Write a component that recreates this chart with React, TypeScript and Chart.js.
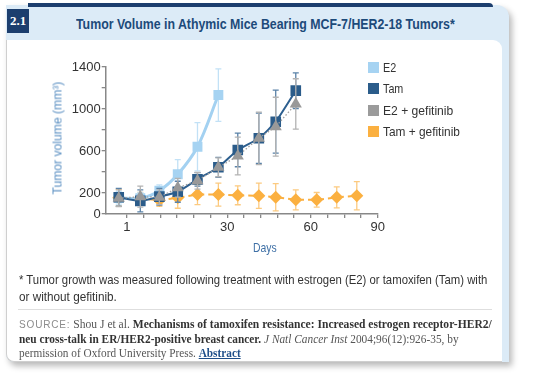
import React, { useEffect, useLayoutEffect, useRef } from 'react';
import { Chart, registerables } from 'chart.js';

Chart.register(...registerables);

// ---- data ----
// x positions of the measurement time points, in axis tick units
const xPos = [-0.49, 0.8, 1.94, 3.04, 4.22, 5.47, 6.63, 7.89, 8.9, 10.1, 11.35, 12.55, 13.75];
const xTickPos = [0, 1, 2, 3, 4, 5, 6, 7, 8, 9, 10, 11, 12, 13, 14, 15];
const xTickLabels = ['1', '', '', '', '', '', '30', '', '', '', '', '60', '', '', '', '90'];
const yTickValues = [0, 200, 400, 600, 800, 1000, 1200, 1400];
const yTickLabels = ['0', '200', '', '600', '', '1000', '', '1400'];

const e2Values = [155, 150, 222, 378, 641, 1133];
const e2Errors = [60, 55, 55, 140, 230, 250];
const tamValues = [160, 125, 165, 212, 330, 445, 610, 721, 879, 1175];
const tamErrors = [85, 105, 80, 100, 65, 95, 160, 240, 300, 170];
const e2GefValues = [150, 165, 160, 250, 317, 445, 552, 721, 832, 1048];
const e2GefErrors = [80, 100, 70, 90, 80, 90, 180, 250, 280, 240];
const tamGefValues = [155, 145, 132, 155, 185, 185, 178, 174, 159, 135, 135, 159, 174];
const tamGefErrors = [80, 60, 60, 100, 95, 110, 90, 120, 130, 95, 70, 100, 135];

const legendLabels = ['E2', 'Tam', 'E2 + gefitinib', 'Tam + gefitinib'];
const legendColors = ['#a6d3f2', '#2b5c8a', '#9b9b9b', '#fbb040'];

const SANS = '"Liberation Sans", Arial, sans-serif';
const SERIF = '"Liberation Serif", "Times New Roman", serif';

const pts = (vals: number[]) => vals.map((v, i) => ({ x: xPos[i], y: v }));

const errorBarPlugin = {
  id: 'errorBars',
  beforeDatasetDraw(chart: any, args: any) {
    const ds = chart.data.datasets[args.index];
    if (!ds.errors) return;
    const yScale = chart.scales.y;
    const ctx = chart.ctx;
    ctx.save();
    ctx.strokeStyle = ds.errorColor;
    ctx.lineWidth = 1.3;
    args.meta.data.forEach((el: any, i: number) => {
      const v = ds.data[i].y;
      const e = ds.errors[i];
      const x = el.x;
      const yt = yScale.getPixelForValue(v + e);
      const yb = yScale.getPixelForValue(Math.max(0, v - e));
      ctx.beginPath();
      ctx.moveTo(x, yt);
      ctx.lineTo(x, yb);
      ctx.moveTo(x - 3, yt);
      ctx.lineTo(x + 3, yt);
      ctx.moveTo(x - 3, yb);
      ctx.lineTo(x + 3, yb);
      ctx.stroke();
    });
    ctx.restore();
  },
};

type FitProps = {
  x: number;
  y: number;
  w: number;
  h?: number;
  align?: 'left' | 'center';
  rotate?: number;
  style?: React.CSSProperties;
  children: React.ReactNode;
};

function Fit({ x, y, w, h = 16, align = 'left', rotate, style, children }: FitProps) {
  const ref = useRef<HTMLSpanElement>(null);
  useLayoutEffect(() => {
    const el = ref.current;
    if (!el) return;
    el.style.transform = 'none';
    const nat = el.offsetWidth;
    if (nat > 0) el.style.transform = `scaleX(${w / nat})`;
  });
  const left = align === 'center' ? x - w / 2 : x;
  return (
    <div
      style={{
        position: 'absolute',
        left,
        top: y - h / 2,
        width: w,
        height: h,
        lineHeight: h + 'px',
        whiteSpace: 'nowrap',
        transform: rotate ? `rotate(${rotate}deg)` : undefined,
        transformOrigin: '50% 50%',
      }}
    >
      <span ref={ref} style={{ display: 'inline-block', transformOrigin: '0 50%', ...style }}>
        {children}
      </span>
    </div>
  );
}

function ChartCanvas() {
  const ref = useRef<HTMLCanvasElement>(null);
  useEffect(() => {
    if (!ref.current) return;
    const tickFont = { family: SANS, size: 13 };
    const chart = new Chart(ref.current, {
      type: 'line',
      data: {
        datasets: [
          {
            label: legendLabels[2],
            data: pts(e2GefValues),
            borderColor: '#a0a0a0',
            backgroundColor: '#999999',
            borderWidth: 1.3,
            borderDash: [1.5, 2],
            pointStyle: 'triangle',
            pointRadius: 7,
            pointBorderWidth: 0,
            order: 0,
            errors: e2GefErrors,
            errorColor: '#b3b3b3',
          } as any,
          {
            label: legendLabels[1],
            data: pts(tamValues),
            borderColor: '#2d5f8f',
            backgroundColor: '#2b5c8a',
            borderWidth: 2,
            tension: 0.2,
            pointStyle: 'rect',
            pointRadius: 7.5,
            pointBorderWidth: 0,
            order: 1,
            errors: tamErrors,
            errorColor: '#5a82a8',
          } as any,
          {
            label: legendLabels[0],
            data: pts(e2Values),
            borderColor: '#a3d1f1',
            backgroundColor: '#a6d3f2',
            borderWidth: 3,
            tension: 0.35,
            pointStyle: 'rect',
            pointRadius: 7,
            pointBorderWidth: 0,
            order: 2,
            errors: e2Errors,
            errorColor: '#c2e1f6',
          } as any,
          {
            label: legendLabels[3],
            data: pts(tamGefValues),
            borderColor: '#fbb040',
            backgroundColor: '#fbb040',
            borderWidth: 2,
            borderDash: [6, 4],
            pointStyle: 'rectRot',
            pointRadius: 6.5,
            pointBorderWidth: 0,
            order: 3,
            errors: tamGefErrors,
            errorColor: '#fcca80',
          } as any,
        ],
      },
      options: {
        animation: false,
        responsive: false,
        maintainAspectRatio: false,
        layout: { padding: { left: 60, top: 67, right: 162.3, bottom: 134 } },
        plugins: { legend: { display: false }, tooltip: { enabled: false } },
        scales: {
          x: {
            type: 'linear',
            min: -1.27,
            max: 15,
            afterBuildTicks: (s: any) => {
              s.ticks = xTickPos.map((v) => ({ value: v }));
            },
            afterFit: (s: any) => {
              s.height = 30;
            },
            ticks: {
              autoSkip: false,
              maxRotation: 0,
              color: '#333',
              font: tickFont,
              padding: 2,
              callback: (v: any) => {
                const i = xTickPos.indexOf(Math.round(Number(v)));
                return i >= 0 ? xTickLabels[i] : '';
              },
            },
            grid: { display: true, drawOnChartArea: false, drawTicks: true, tickLength: 4, color: '#888', lineWidth: 1.3 },
            border: { display: true, color: '#888', width: 1.5 },
          },
          y: {
            type: 'linear',
            min: 0,
            max: 1400,
            afterBuildTicks: (s: any) => {
              s.ticks = yTickValues.map((v) => ({ value: v }));
            },
            afterFit: (s: any) => {
              s.width = 45.7;
            },
            ticks: {
              autoSkip: false,
              color: '#333',
              font: tickFont,
              padding: 1,
              callback: (v: any) => {
                const i = yTickValues.indexOf(Math.round(Number(v)));
                return i >= 0 ? yTickLabels[i] : '';
              },
            },
            grid: { display: true, drawOnChartArea: false, drawTicks: true, tickLength: 4, color: '#888', lineWidth: 1.3 },
            border: { display: true, color: '#888', width: 1.5 },
          },
        },
      } as any,
      plugins: [errorBarPlugin],
    });
    return () => chart.destroy();
  }, []);
  return <canvas ref={ref} width={540} height={378} style={{ position: 'absolute', left: 0, top: 0, width: 540, height: 378 }} />;
}

export default function App() {
  const legendY = [67, 88, 110, 131];
  const legendW = [13.3, 20.7, 70.7, 76.7];
  return (
    <div style={{ position: 'absolute', left: 0, top: 0, width: 540, height: 378, background: '#fff', overflow: 'hidden', fontFamily: SANS }}>
      {/* card frame */}
      <div
        style={{
          position: 'absolute',
          left: 6,
          top: 5,
          width: 503,
          height: 357,
          background: '#dcebf7',
          borderTopRightRadius: 12,
          borderBottomLeftRadius: 8,
          boxShadow: '3px 4px 6px rgba(0,0,0,0.28)',
        }}
      />
      <div style={{ position: 'absolute', left: 28, top: 2.5, width: 465, height: 4, background: '#1c3e6e', borderTopRightRadius: 5 }} />
      <div
        style={{
          position: 'absolute',
          left: 6,
          top: 40,
          width: 496,
          height: 322,
          background: '#fff',
          borderTopRightRadius: 9,
          borderBottomLeftRadius: 8,
          borderLeft: '1px solid #cfcfcf',
          borderBottom: '1px solid #cfcfcf',
          boxSizing: 'border-box',
        }}
      />
      {/* badge */}
      <div
        style={{
          position: 'absolute',
          left: 7,
          top: 9,
          width: 22,
          height: 24,
          background: '#1c3e6e',
          color: '#fff',
          fontFamily: SERIF,
          fontWeight: 'bold',
          fontSize: 13,
          lineHeight: '24px',
          textAlign: 'center',
        }}
      >
        2.1
      </div>
      <Fit x={76} y={24} w={379} h={18} style={{ fontWeight: 'bold', fontSize: 14, color: '#1c4a7a' }}>
        Tumor Volume in Athymic Mice Bearing MCF-7/HER2-18 Tumors*
      </Fit>

      <ChartCanvas />

      {/* axis titles */}
      <Fit x={56} y={138.3} w={113} align="center" rotate={-90} style={{ fontSize: 13, color: '#5a8fc2' }}>
        Tumor volume (mm³)
      </Fit>
      <Fit x={265} y={246.5} w={24} align="center" style={{ fontSize: 13, color: '#3f70a6' }}>
        Days
      </Fit>

      {/* legend */}
      {legendLabels.map((lab, i) => (
        <React.Fragment key={lab}>
          <div style={{ position: 'absolute', left: 367.5, top: legendY[i] - 5.5, width: 11.5, height: 11.5, background: legendColors[i] }} />
          <Fit x={383.3} y={legendY[i]} w={legendW[i]} style={{ fontSize: 13, color: '#333' }}>
            {lab}
          </Fit>
        </React.Fragment>
      ))}

      {/* footnote */}
      <Fit x={18.5} y={279} w={468.5} style={{ fontSize: 13, color: '#333' }}>
        * Tumor growth was measured following treatment with estrogen (E2) or tamoxifen (Tam) with
      </Fit>
      <Fit x={18.5} y={295.5} w={97.5} style={{ fontSize: 13, color: '#333' }}>
        or without gefitinib.
      </Fit>
      <div style={{ position: 'absolute', left: 18, top: 309, width: 474, height: 1, background: '#dedede' }} />

      {/* source */}
      <Fit x={18.5} y={323} w={472.5} h={14} style={{ fontSize: 11.5, fontFamily: SERIF, color: '#555' }}>
        <span style={{ fontFamily: SANS, fontSize: 10, letterSpacing: 0.8, color: '#8c8c8c' }}>SOURCE:</span> Shou J et al.{' '}
        <b style={{ color: '#333' }}>Mechanisms of tamoxifen resistance: Increased estrogen receptor-HER2/</b>
      </Fit>
      <Fit x={18.5} y={337.5} w={439.5} h={14} style={{ fontSize: 11.5, fontFamily: SERIF, color: '#555' }}>
        <b style={{ color: '#333' }}>neu cross-talk in ER/HER2-positive breast cancer.</b> <i>J Natl Cancer Inst</i> 2004;96(12):926-35, by
      </Fit>
      <Fit x={18.5} y={352} w={221.5} h={14} style={{ fontSize: 11.5, fontFamily: SERIF, color: '#555' }}>
        permission of Oxford University Press.{' '}
        <b style={{ color: '#1f4f8a', textDecoration: 'underline' }}>Abstract</b>
      </Fit>
    </div>
  );
}
